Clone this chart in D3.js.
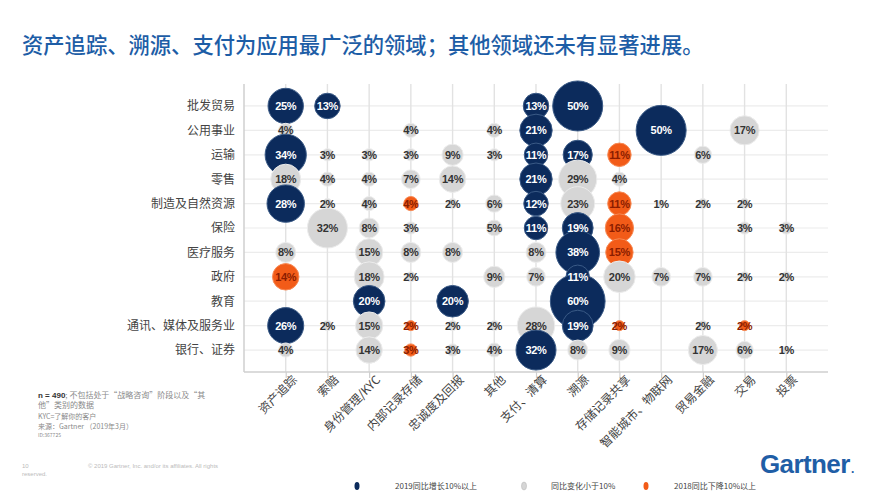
<!DOCTYPE html>
<html><head><meta charset="utf-8">
<script src="https://cdn.jsdelivr.net/npm/d3@7/dist/d3.min.js"></script>
<style>
html,body{margin:0;padding:0;background:#fff;}
svg{display:block;}
</style></head>
<body>
<svg id="chart" width="888" height="500"></svg>
<script>
const title = "资产追踪、溯源、支付为应用最广泛的领域；其他领域还未有显著进展。";
const columns = ["资产追踪","索赔","身份管理/KYC","内部记录存储","忠诚度及回报","其他","支付、清算","溯源","存储记录共享","智能城市、物联网","贸易金融","交易","投票"];
const rows = ["批发贸易","公用事业","运输","零售","制造及自然资源","保险","医疗服务","政府","教育","通讯、媒体及服务业","银行、证券"];
// status codes: N = 2019同比增长10%以上, G = 同比变化小于10%, O = 2018同比下降10%以上
const wholesale  = [[0,25,"N"],[1,13,"N"],[6,13,"N"],[7,50,"N"]];
const utilities  = [[0,4,"G"],[3,4,"G"],[5,4,"G"],[6,21,"N"],[9,50,"N"],[11,17,"G"]];
const transport  = [[0,34,"N"],[1,3,"G"],[2,3,"G"],[3,3,"G"],[4,9,"G"],[5,3,"G"],[6,11,"N"],[7,17,"N"],[8,11,"O"],[10,6,"G"]];
const retail     = [[0,18,"G"],[1,4,"G"],[2,4,"G"],[3,7,"G"],[4,14,"G"],[6,21,"N"],[7,29,"G"],[8,4,"G"]];
const manufacturing = [[0,28,"N"],[1,2,"G"],[2,4,"G"],[3,4,"O"],[4,2,"G"],[5,6,"G"],[6,12,"N"],[7,23,"G"],[8,11,"O"],[9,1,"G"],[10,2,"G"],[11,2,"G"]];
const insurance  = [[1,32,"G"],[2,8,"G"],[3,3,"G"],[5,5,"G"],[6,11,"N"],[7,19,"N"],[8,16,"O"],[11,3,"G"],[12,3,"G"]];
const healthcare = [[0,8,"G"],[2,15,"G"],[3,8,"G"],[4,8,"G"],[6,8,"G"],[7,38,"N"],[8,15,"O"]];
const government = [[0,14,"O"],[2,18,"G"],[3,2,"G"],[5,9,"G"],[6,7,"G"],[7,11,"N"],[8,20,"G"],[9,7,"G"],[10,7,"G"],[11,2,"G"],[12,2,"G"]];
const education  = [[2,20,"N"],[4,20,"N"],[7,60,"N"]];
const telecom    = [[0,26,"N"],[1,2,"G"],[2,15,"G"],[3,2,"O"],[4,2,"G"],[5,2,"G"],[6,28,"G"],[7,19,"N"],[8,2,"O"],[10,2,"G"],[11,2,"O"]];
const banking    = [[0,4,"G"],[2,14,"G"],[3,3,"O"],[4,3,"G"],[5,4,"G"],[6,32,"N"],[7,8,"G"],[8,9,"G"],[10,17,"G"],[11,6,"G"],[12,1,"G"]];
const rowValues = [wholesale,utilities,transport,retail,manufacturing,insurance,healthcare,government,education,telecom,banking];
const legendLabels = ["2019同比增长10%以上","同比变化小于10%","2018同比下降10%以上"];
const statusKeys = ["N","G","O"];

const data = [];
rowValues.forEach((arr,ri)=>arr.forEach(([ci,v,s])=>data.push({row:rows[ri],col:columns[ci],v,s})));

const svg = d3.select("#chart");
const fill = d3.scaleOrdinal(statusKeys, ["#0c2b5c","#d6d6d6","#f25b18"]);
const stroke = d3.scaleOrdinal(statusKeys, ["#3a5a86","#ececec","#f78a55"]);
const textColor = d3.scaleOrdinal(statusKeys, ["#ffffff","#333333","#8a1d00"]);

const L=244, R=828, T=84, B=372;
const x = d3.scalePoint(columns,[L,R]).padding(1);
const y = d3.scalePoint(rows,[T,B]).padding(0.9);
const r = d3.scaleSqrt([0,50],[0,25]);

// title
svg.append("text").attr("x",22).attr("y",53).text(title)
  .attr("font-family","'Noto Sans CJK SC', sans-serif").attr("font-size",21.3)
  .attr("font-weight",500).attr("fill","#1d5da6");

// gridlines
svg.append("g").selectAll("line").data(rows).join("line")
  .attr("x1",L).attr("x2",R).attr("y1",d=>y(d)).attr("y2",d=>y(d))
  .attr("stroke","#ececec").attr("stroke-width",1.2);
svg.append("g").selectAll("line").data(columns).join("line")
  .attr("x1",d=>x(d)).attr("x2",d=>x(d)).attr("y1",T).attr("y2",B)
  .attr("stroke","#e2e2e2").attr("stroke-width",1.4);

// axes
const xAxis = svg.append("g").attr("transform",`translate(0,${B})`)
  .call(d3.axisBottom(x).tickSize(6).tickSizeOuter(0));
xAxis.select(".domain").attr("stroke","#cfcfcf").attr("stroke-width",1.5)
  .attr("d",`M${L},0H${R}`);
xAxis.selectAll(".tick line").attr("stroke","#cfcfcf").attr("stroke-width",1.2);
xAxis.selectAll(".tick text")
  .attr("font-family","'Noto Sans CJK SC', sans-serif").attr("font-size",12)
  .attr("fill","#444").attr("text-anchor","end")
  .attr("x",2).attr("y",10).attr("dy","0.35em")
  .attr("transform","rotate(-45)");

const yAxis = svg.append("g").attr("transform",`translate(${L},0)`)
  .call(d3.axisLeft(y).tickSize(0).tickPadding(9));
yAxis.select(".domain").attr("stroke","#cfcfcf").attr("stroke-width",1.5)
  .attr("d",`M0,${T}V${B}`);
yAxis.selectAll(".tick text")
  .attr("font-family","'Noto Sans CJK SC', sans-serif").attr("font-size",12)
  .attr("fill","#444");

// bubbles
svg.append("g").selectAll("circle").data(data).join("circle")
  .attr("cx",d=>x(d.col)).attr("cy",d=>y(d.row)).attr("r",d=>r(d.v))
  .attr("fill",d=>fill(d.s)).attr("stroke",d=>stroke(d.s)).attr("stroke-width",1);
svg.append("g").selectAll("text").data(data).join("text")
  .attr("x",d=>x(d.col)).attr("y",d=>y(d.row)).attr("dy","0.36em")
  .attr("text-anchor","middle").text(d=>d.v+"%")
  .attr("font-family","'Liberation Sans', Arial, sans-serif").attr("font-weight","bold")
  .attr("font-size",11).attr("letter-spacing",-0.3)
  .attr("fill",d=>textColor(d.s));

// footnotes
const fn = svg.append("g").attr("font-family","'Noto Sans CJK SC', sans-serif").attr("fill","#8a8a8a");
const n1 = fn.append("text").attr("x",38).attr("y",398).attr("font-size",8);
n1.append("tspan").text("n = 490").attr("font-weight","bold").attr("fill","#333").attr("font-family","'Liberation Sans', Arial, sans-serif");
n1.append("tspan").text("; 不包括处于“战略咨询”阶段以及“其");
fn.append("text").attr("x",38).attr("y",408).attr("font-size",8).text("他”类别的数据");
fn.append("text").attr("x",38).attr("y",419).attr("font-size",7).text("KYC=了解你的客户");
fn.append("text").attr("x",38).attr("y",429).attr("font-size",7).text("来源：Gartner （2019年3月）");
fn.append("text").attr("x",38).attr("y",437).attr("font-size",5).text("ID:367725");
const cp = svg.append("g").attr("font-family","'Liberation Sans', Arial, sans-serif").attr("fill","#bbbbbb").attr("font-size",6);
cp.append("text").attr("x",22).attr("y",468).text("10");
cp.append("text").attr("x",22).attr("y",476).text("reserved.");
cp.append("text").attr("x",88).attr("y",468).text("© 2019 Gartner, Inc. and/or its affiliates. All rights");

// legend
const legX = [357,524,646];
const lg = svg.append("g").selectAll("g").data(statusKeys).join("g")
  .attr("transform",(d,i)=>`translate(${legX[i]},486)`);
lg.append("ellipse").attr("rx",2.5).attr("ry",4).attr("fill",d=>fill(d)).attr("stroke",d=>d==="G"?"#bbb":"none").attr("stroke-width",0.6);
lg.append("text").attr("x",(d,i)=>[38,27,28][i]).attr("dy","0.35em")
  .attr("font-family","'Noto Sans CJK SC', sans-serif").attr("font-size",8).attr("fill","#444")
  .text((d,i)=>legendLabels[i]);

// logo
svg.append("text").attr("x",760).attr("y",473)
  .attr("font-family","'Liberation Sans', Arial, sans-serif").attr("font-weight","bold")
  .attr("font-size",26).attr("fill","#1f5ea6").attr("letter-spacing",-0.6).text("Gartner");
svg.append("text").attr("x",851).attr("y",473).attr("font-family","'Liberation Sans', Arial, sans-serif")
  .attr("font-weight","bold").attr("font-size",12).attr("fill","#1f5ea6").text(".");
</script>
</body></html>
